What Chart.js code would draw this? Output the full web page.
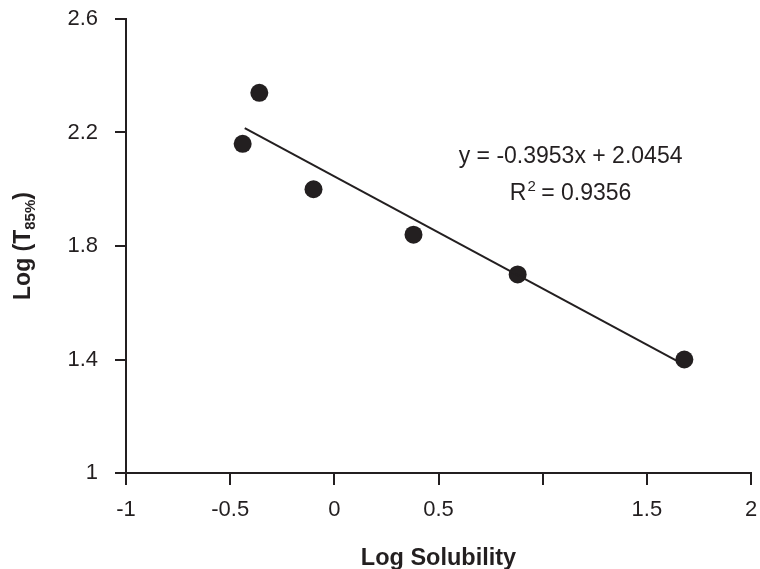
<!DOCTYPE html>
<html>
<head>
<meta charset="utf-8">
<title>Log T85% vs Log Solubility</title>
<script src="https://cdn.jsdelivr.net/npm/chart.js@4.4.1/dist/chart.umd.min.js"></script>
<style>
    html, body { margin: 0; padding: 0; background: #fff; }
    .chart-box { width: 760px; height: 569px; position: relative; }
</style>
</head>
<body>

<div class="chart-box">
    <canvas id="solChart"></canvas>
</div>

<script>

/* =========================
   DATA
========================= */

const logSolubility = [-0.44, -0.36, -0.10, 0.38, 0.88, 1.68];
const logT85 = [2.16, 2.34, 2.00, 1.84, 1.70, 1.40];

// fitted line end points, as drawn
const trendX = [-0.43, 1.68];
const trendY = [2.215, 1.381];

const xTicks = [-1, -0.5, 0, 0.5, 1, 1.5, 2];
const xTickLabels = ["-1", "-0.5", "0", "0.5", "", "1.5", "2"];

const yTicks = [1, 1.4, 1.8, 2.2, 2.6];
const yTickLabels = ["1", "1.4", "1.8", "2.2", "2.6"];

const equationText = "y = -0.3953x + 2.0454";
const rSquaredText = "0.9356";
const equationPos = [1.134, 2.093];

/* =========================
   STYLE
========================= */

const ink = "#231f20";
const fontFamily = "'Liberation Sans', Arial, Helvetica, sans-serif";

/* =========================
   TEXT PLUGIN
========================= */

const labelsPlugin = {

    id: "labelsPlugin",

    afterDraw(chart){

        const ctx = chart.ctx;
        const area = chart.chartArea;
        const xs = chart.scales.x;
        const ys = chart.scales.y;

        ctx.save();
        ctx.fillStyle = ink;
        ctx.textBaseline = "alphabetic";

        /* x title */
        ctx.font = "bold 23.5px " + fontFamily;
        ctx.textAlign = "center";
        ctx.fillText("Log Solubility", (area.left + area.right) / 2, 565);

        /* y title with subscript */
        const mainFont = "bold 23px " + fontFamily;
        const subFont = "bold 15px " + fontFamily;

        ctx.font = mainFont;
        const w1 = ctx.measureText("Log (T").width;
        const w3 = ctx.measureText(")").width;
        ctx.font = subFont;
        const w2 = ctx.measureText("85%").width;
        const total = w1 + w2 + w3;

        ctx.save();
        ctx.translate(30, (area.top + area.bottom) / 2 + total / 2);
        ctx.rotate(-Math.PI / 2);
        ctx.textAlign = "left";
        ctx.font = mainFont;
        ctx.fillText("Log (T", 0, 0);
        ctx.font = subFont;
        ctx.fillText("85%", w1, 5);
        ctx.font = mainFont;
        ctx.fillText(")", w1 + w2, 0);
        ctx.restore();

        /* regression text */
        const ex = xs.getPixelForValue(equationPos[0]);
        const ey = ys.getPixelForValue(equationPos[1]);

        ctx.font = "23px " + fontFamily;
        ctx.textAlign = "center";
        ctx.fillText(equationText, ex, ey);

        const rest = " = " + rSquaredText;
        const wR = ctx.measureText("R").width;
        const wRest = ctx.measureText(rest).width;
        ctx.font = "15px " + fontFamily;
        const wSup = ctx.measureText("2").width;
        const startX = ex - (wR + wSup + wRest) / 2;
        const ry = ey + 37;

        ctx.textAlign = "left";
        ctx.font = "23px " + fontFamily;
        ctx.fillText("R", startX, ry);
        ctx.font = "15px " + fontFamily;
        ctx.fillText("2", startX + wR + 1, ry - 9);
        ctx.font = "23px " + fontFamily;
        ctx.fillText(rest, startX + wR + wSup, ry);

        ctx.restore();

    }

};

/* =========================
   CHART
========================= */

const ctx = document.getElementById("solChart");

new Chart(ctx, {

    type: "scatter",

    data: {

        datasets: [
            {
                type: "line",
                label: "Trend",
                data: trendX.map((x, i) => ({ x: x, y: trendY[i] })),
                borderColor: ink,
                borderWidth: 2,
                pointRadius: 0,
                fill: false,
                tension: 0
            },
            {
                label: "Data",
                data: logSolubility.map((x, i) => ({ x: x, y: logT85[i] })),
                backgroundColor: ink,
                borderColor: ink,
                borderWidth: 0,
                pointRadius: 9
            }
        ]

    },

    options: {

        responsive: true,
        maintainAspectRatio: false,
        animation: false,

        layout: {
            padding: { top: 19, right: 6, left: 0, bottom: 0 }
        },

        plugins: {
            legend: { display: false },
            tooltip: { enabled: false }
        },

        scales: {

            x: {
                type: "linear",
                min: -1,
                max: 2,
                afterBuildTicks(scale){
                    scale.ticks = xTicks.map(v => ({ value: v }));
                },
                afterFit(scale){
                    scale.height = 96;
                    scale.paddingLeft = 0;
                    scale.paddingRight = 0;
                },
                ticks: {
                    color: ink,
                    padding: 12,
                    maxRotation: 0,
                    font: { family: fontFamily, size: 22 },
                    callback: (value, index) => xTickLabels[index]
                },
                grid: {
                    display: true,
                    drawOnChartArea: false,
                    drawTicks: true,
                    tickLength: 12,
                    color: ink,
                    lineWidth: 2
                },
                border: { display: true, color: ink, width: 2 }
            },

            y: {
                type: "linear",
                min: 1,
                max: 2.6,
                afterBuildTicks(scale){
                    scale.ticks = yTicks.map(v => ({ value: v }));
                },
                afterFit(scale){
                    scale.width = 126;
                    scale.paddingTop = 0;
                    scale.paddingBottom = 0;
                },
                ticks: {
                    color: ink,
                    padding: 17,
                    font: { family: fontFamily, size: 22 },
                    callback: (value, index) => yTickLabels[index]
                },
                grid: {
                    display: true,
                    drawOnChartArea: false,
                    drawTicks: true,
                    tickLength: 11,
                    color: ink,
                    lineWidth: 2
                },
                border: { display: true, color: ink, width: 2 }
            }

        }

    },

    plugins: [labelsPlugin]

});

</script>
</body>
</html>
